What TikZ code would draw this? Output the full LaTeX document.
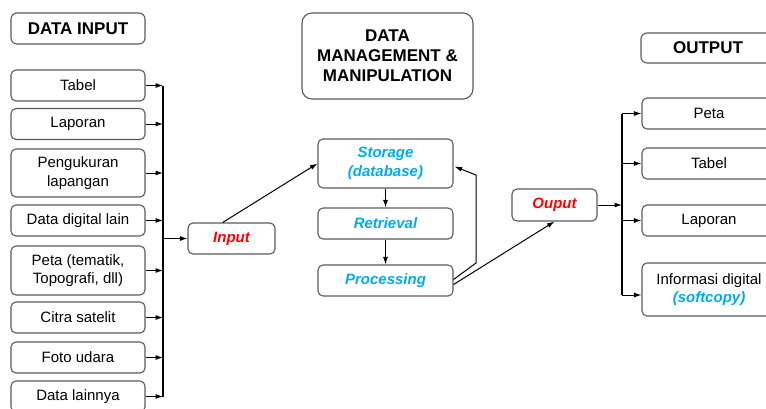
\documentclass[tikz,border=0pt]{standalone}
\usepackage{fontspec}
\setmainfont{Liberation Sans}
\usetikzlibrary{arrows.meta,calc}
\definecolor{boxgray}{RGB}{90,90,90}
\definecolor{sblue}{RGB}{0,170,240}
\definecolor{sred}{RGB}{255,0,0}
\begin{document}
\begin{tikzpicture}[x=1pt,y=-1pt,
  box/.style={draw=boxgray, line width=1.1pt, rounded corners=5pt, minimum width=134pt,
    minimum height=31pt, align=center, inner sep=0pt, font=\fontsize{15}{18.5}\selectfont},
  titlebox/.style={box, rounded corners=6pt, font=\fontsize{17}{20}\selectfont\bfseries},
  arr/.style={draw=black, line width=1pt, -{Latex[length=7.5pt,width=5pt]}},
  bus/.style={draw=black, line width=2pt}
]
\useasboundingbox (0,0) rectangle (766,408);

% titles
\node[titlebox] (tin) at (78,28.5) {DATA INPUT};
\node[titlebox, minimum width=171pt, minimum height=86pt, rounded corners=10pt] (tman) at (387.5,56)
  {DATA\\MANAGEMENT \&\\MANIPULATION};
\node[titlebox, minimum width=134pt, minimum height=30pt] (tout) at (708,48) {OUTPUT};

% left inputs
\node[box] (l1) at (78,85.5) {Tabel};
\node[box] (l2) at (78,124) {Laporan};
\node[box, minimum height=48pt] (l3) at (78,173) {Pengukuran\\lapangan};
\node[box] (l4) at (78,220.5) {Data digital lain};
\node[box, minimum height=49pt] (l5) at (78,270.5) {Peta (tematik,\\Topografi, dll)};
\node[box] (l6) at (78,317.5) {Citra satelit};
\node[box] (l7) at (78,357.5) {Foto udara};
\node[box] (l8) at (78,396.5) {Data lainnya};

\coordinate (lbus) at (163,0);
\draw[bus] (l1.east -| lbus) -- (l8.east -| lbus);
\foreach \n in {l1,l2,l3,l4,l5,l6,l7,l8}
  \draw[arr] (\n.east) -- (\n.east -| lbus);

% input
\node[box, minimum width=87pt] (inp) at (231.5,238.5) {\textcolor{sred}{\bfseries\itshape Input}};
\draw[arr] (inp.west -| lbus) -- (inp.west);

% management
\node[box, minimum width=135pt, minimum height=49pt] (sto) at (385.5,163.5)
  {\textcolor{sblue}{\bfseries\itshape Storage}\\\textcolor{sblue}{\bfseries\itshape (database)}};
\node[box, minimum width=135pt] (ret) at (385.5,223.5) {\textcolor{sblue}{\bfseries\itshape Retrieval}};
\node[box, minimum width=135pt] (pro) at (385.5,280.5) {\textcolor{sblue}{\bfseries\itshape Processing}};

\draw[arr] ($(inp.north west)!0.4!(inp.north east)$) -- (sto.west);
\draw[arr] (sto.south) -- (ret.north);
\draw[arr] (ret.south) -- (pro.north);

\coordinate (fb1) at (476,263);
\coordinate (fb2) at (476,175);
\draw[arr] ($(pro.east)+(0,-1)$) -- (fb1) -- (fb2) -- ($(sto.east)+(1,3)$);

% output
\node[box, minimum width=85pt, minimum height=32pt] (oup) at (554.5,205) {\textcolor{sred}{\bfseries\itshape Ouput}};
\draw[arr] ($(pro.east)+(0,4)$) -- (oup.south);

\node[box] (r1) at (709,113.5) {Peta};
\node[box] (r2) at (709,163.5) {Tabel};
\node[box] (r3) at (709,220.5) {Laporan};
\node[box, minimum height=53pt] (r4) at (709,289.5) {Informasi digital\\\textcolor{sblue}{\bfseries\itshape (softcopy)}};

\coordinate (rbus) at (622,0);
\coordinate (r4in) at ($(r4.west)+(0,5.5)$);
\draw[bus] (r1.west -| rbus) -- (r4in -| rbus);
\draw[arr] (oup.east) -- (oup.east -| rbus);
\foreach \n in {r1,r2,r3}
  \draw[arr] (\n.west -| rbus) -- (\n.west);
\draw[arr] (r4in -| rbus) -- (r4in);
\end{tikzpicture}
\end{document}
